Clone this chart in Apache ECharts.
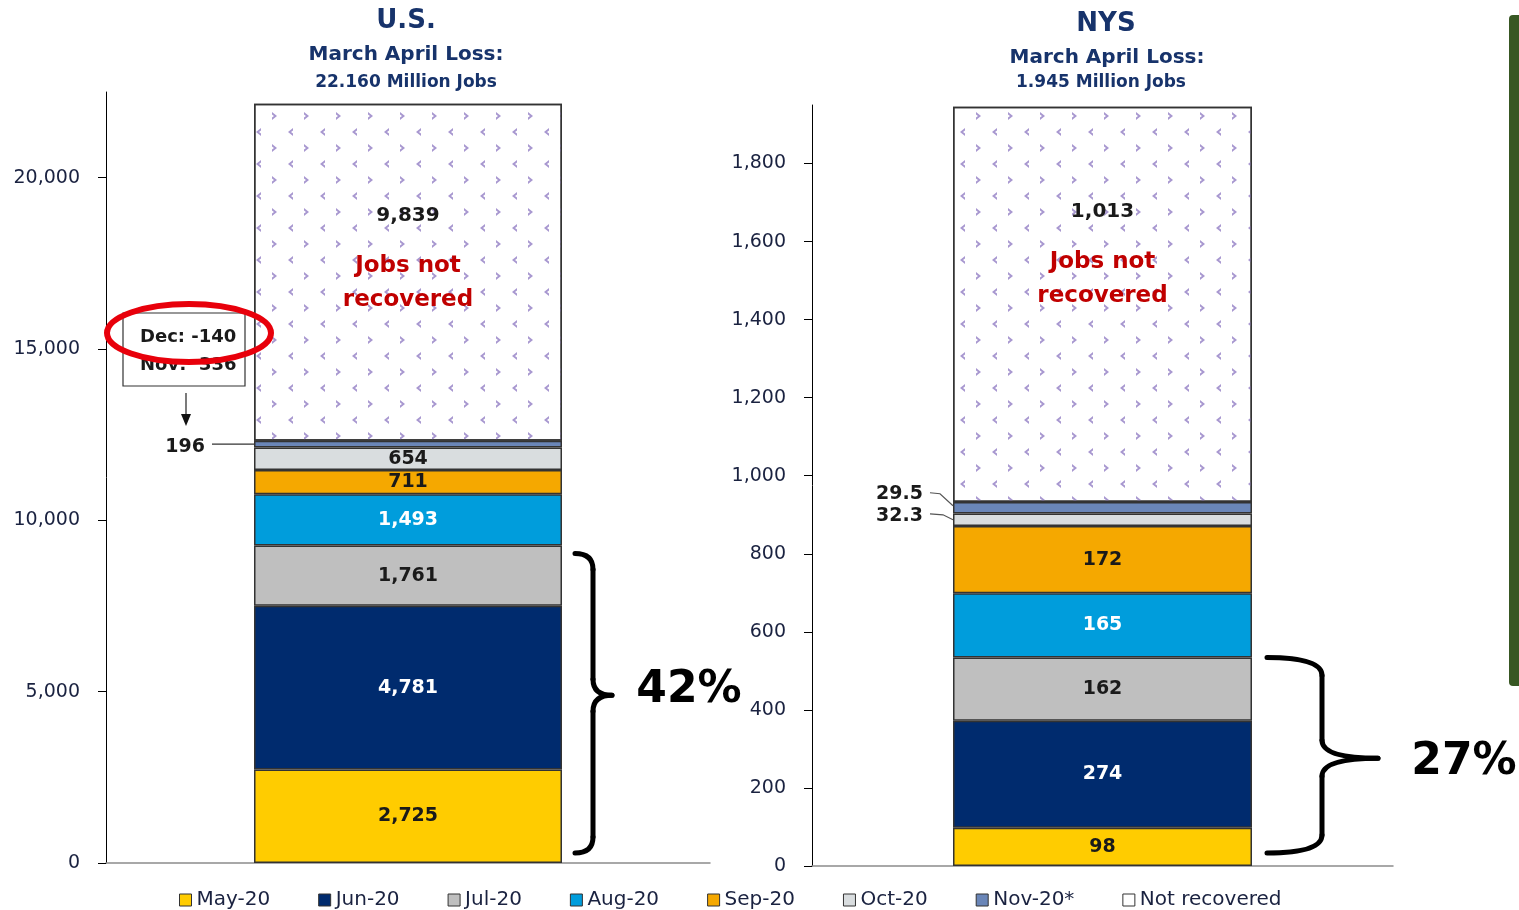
<!DOCTYPE html>
<html>
<head>
<meta charset="utf-8">
<title>Jobs recovered</title>
<script src="https://cdn.jsdelivr.net/npm/echarts@6/dist/echarts.min.js"></script>
<style>
  html, body { margin: 0; padding: 0; background: #fff; }
  #main { width: 1519px; height: 910px; }
</style>
</head>
<body>
<div id="main"></div>
<script>
// data (thousands of jobs)
const categories = ['May-20', 'Jun-20', 'Jul-20', 'Aug-20', 'Sep-20', 'Oct-20', 'Nov-20*', 'Not recovered'];
const usValues = [2725, 4781, 1761, 1493, 711, 654, 196, 9839];
const nysValues = [98, 274, 162, 165, 172, 32.3, 29.5, 1013];
const usTicks = [0, 5000, 10000, 15000, 20000];
const nysTicks = [0, 200, 400, 600, 800, 1000, 1200, 1400, 1600, 1800];
const usShare = '42%';
const nysShare = '27%';

const colors = ['#ffcc00', '#002b6e', '#bfbfbf', '#009ddc', '#f5a800', '#d9dddf', '#6a86b8', '#ffffff'];
const whiteLabel = [false, true, false, true, false, false, false, false];
const navy = '#17336b';
const font = 'DejaVu Sans';

const chart = echarts.init(document.getElementById('main'));

// pattern for "Not recovered"
const notRecDecal = {
  symbol: 'path://M5,0 L0,4 L5,8 L5,5.6 L3,4 L5,2.4 Z M16,16 L21,20 L16,24 L16,21.6 L18,20 L16,18.4 Z',
  symbolSize: 1,
  symbolKeepAspect: true,
  color: '#a898d0',
  dashArrayX: [21, 11],
  dashArrayY: [24, 8],
  rotation: 0
};

function fmt(v) {
  return v.toLocaleString('en-US');
}

function makeSeries(values, g, barWidth, topDist, sideLabels) {
  return categories.map((name, i) => {
    let label = {
      show: true,
      position: 'inside',
      fontFamily: font,
      fontWeight: 'bold',
      fontSize: 19,
      color: whiteLabel[i] ? '#ffffff' : '#1a1a1a',
      formatter: () => fmt(values[i])
    };
    if (i === 7) {
      label = {
        show: true,
        position: 'insideTop',
        distance: topDist,
        formatter: () => '{v|' + fmt(values[i]) + '}\n{r|Jobs not}\n{r|recovered}',
        rich: {
          v: { fontFamily: font, fontWeight: 'bold', fontSize: 20, color: '#1a1a1a', lineHeight: 66 },
          r: { fontFamily: font, fontWeight: 'bold', fontSize: 23, color: '#c00000', lineHeight: 34 }
        }
      };
    } else if (sideLabels[i]) {
      label = Object.assign(label, {
        position: 'left',
        distance: sideLabels[i].distance,
        offset: sideLabels[i].offset,
        color: '#1a1a1a'
      });
    }
    return {
      name: name,
      type: 'bar',
      stack: 'total' + g,
      xAxisIndex: g,
      yAxisIndex: g,
      barWidth: barWidth,
      data: [values[i]],
      itemStyle: {
        color: colors[i],
        borderColor: '#333',
        borderWidth: 1.5,
        decal: i === 7 ? notRecDecal : null
      },
      emphasis: { disabled: true },
      label: label
    };
  });
}

function valueAxis(g, max, ticks, interval) {
  return {
    type: 'value',
    gridIndex: g,
    min: 0,
    max: max,
    interval: interval,
    splitLine: { show: false },
    axisLine: { show: true, lineStyle: { color: '#000', width: 1 } },
    axisTick: { show: true, length: 8, customValues: ticks, lineStyle: { color: '#000' } },
    axisLabel: {
      customValues: ticks,
      margin: 26,
      fontFamily: font,
      fontSize: 19,
      color: '#1a2240',
      formatter: v => fmt(v)
    }
  };
}

function catAxis(g) {
  return {
    type: 'category',
    gridIndex: g,
    data: [''],
    axisLine: { show: true, lineStyle: { color: '#8c8c8c', width: 1.5 } },
    axisTick: { show: false },
    axisLabel: { show: false }
  };
}

const option = {
  animation: false,
  textStyle: { fontFamily: font },
  grid: [
    { left: 106, top: 92, width: 604, height: 771 },
    { left: 812, top: 105, width: 581, height: 761 }
  ],
  xAxis: [catAxis(0), catAxis(1)],
  yAxis: [valueAxis(0, 22500, usTicks, 5000), valueAxis(1, 1950, nysTicks, 200)],
  legend: {
    left: 174,
    top: 885,
    itemWidth: 12,
    itemHeight: 12,
    itemGap: 48,
    icon: 'rect',
    selectedMode: false,
    textStyle: { fontFamily: font, fontSize: 20, color: '#1a2240' },
    itemStyle: { borderColor: '#333', borderWidth: 1 },
    data: categories.map((c, i) => i === 7 ? { name: c, itemStyle: { decal: 'none' } } : c)
  },
  series: [].concat(
    makeSeries(usValues, 0, 308, 79, { 6: { distance: 49, offset: [0, 3] } }),
    makeSeries(nysValues, 1, 299, 72, {
      5: { distance: 30, offset: [0, -4] },
      6: { distance: 30, offset: [0, -14] }
    })
  )
};

chart.setOption(option);

// annotations placed from the axes' own scales
function px(g, v) {
  return chart.convertToPixel({ xAxisIndex: g, yAxisIndex: g }, [0, v]);
}
function cum(values, n) {
  let s = 0;
  for (let i = 0; i < n; i++) s += values[i];
  return s;
}

const usLeft = px(0, 0)[0] - 154;
const usRight = px(0, 0)[0] + 154;
const nysLeft = px(1, 0)[0] - 149.5;
const nysRight = px(1, 0)[0] + 149.5;

const yUsNov = px(0, cum(usValues, 6) + usValues[6] / 2)[1];
const yNysOct = px(1, cum(nysValues, 5) + nysValues[5] / 2)[1];
const yNysNov = px(1, cum(nysValues, 6) + nysValues[6] / 2)[1];

// curly brace built from line / quadratic curve pieces
function brace(xs, xv, xt, yt, yb, ym, r) {
  const st = { stroke: '#000', lineWidth: 5, fill: null, lineCap: 'round' };
  const q = (x1, y1, cx, cy, x2, y2) => ({
    type: 'bezierCurve',
    shape: { x1: x1, y1: y1, cpx1: cx, cpy1: cy, x2: x2, y2: y2 },
    style: st
  });
  const l = (x1, y1, x2, y2) => ({ type: 'line', shape: { x1: x1, y1: y1, x2: x2, y2: y2 }, style: st });
  return {
    type: 'group',
    children: [
      q(xs, yt, xv, yt, xv, yt + r),
      l(xv, yt + r, xv, ym - r),
      q(xv, ym - r, xv, ym, xt, ym),
      q(xt, ym, xv, ym, xv, ym + r),
      l(xv, ym + r, xv, yb - r),
      q(xv, yb - r, xv, yb, xs, yb)
    ]
  };
}

// brackets around May..Jul
const usBTop = px(0, cum(usValues, 3))[1] + 8;
const usBBot = px(0, 0)[1] - 10;
const nysBTop = px(1, cum(nysValues, 3))[1];
const nysBBot = px(1, 0)[1] - 13;

function title(x, y, text, size) {
  return {
    type: 'text', x: x, y: y,
    style: {
      text: text, fill: navy, font: 'bold ' + size + 'px "DejaVu Sans"',
      textAlign: 'center', textVerticalAlign: 'middle'
    }
  };
}

const graphics = [
  title(406, 21, 'U.S.', 26),
  title(406, 55, 'March April Loss:', 20),
  title(406, 83, '22.160 Million Jobs', 17),
  title(1106, 24, 'NYS', 26),
  title(1107, 58, 'March April Loss:', 20),
  title(1101, 83, '1.945 Million Jobs', 17),
  // leader lines
  {
    type: 'line',
    shape: { x1: usLeft - 42, y1: yUsNov, x2: usLeft, y2: yUsNov },
    style: { stroke: '#333', lineWidth: 1.2 }
  },
  {
    type: 'polyline',
    shape: { points: [[nysLeft - 23, yNysNov - 15], [nysLeft - 13, yNysNov - 14], [nysLeft, yNysNov - 2]] },
    style: { stroke: '#555', lineWidth: 1.2, fill: null }
  },
  {
    type: 'polyline',
    shape: { points: [[nysLeft - 23, yNysOct - 6], [nysLeft - 10, yNysOct - 5], [nysLeft, yNysOct]] },
    style: { stroke: '#555', lineWidth: 1.2, fill: null }
  },
  // Dec / Nov box
  {
    type: 'rect',
    shape: { x: 123, y: 313, width: 122, height: 73 },
    style: { fill: '#fff', stroke: '#333', lineWidth: 1.2 }
  },
  {
    type: 'text', x: 140, y: 337,
    style: { text: 'Dec: -140', font: 'bold 18px "DejaVu Sans"', fill: '#1a1a1a', textVerticalAlign: 'middle' }
  },
  {
    type: 'text', x: 140, y: 365,
    style: { text: 'Nov:  336', font: 'bold 18px "DejaVu Sans"', fill: '#1a1a1a', textVerticalAlign: 'middle' }
  },
  {
    type: 'ellipse',
    shape: { cx: 189, cy: 333, rx: 82, ry: 29 },
    style: { fill: null, stroke: '#e8000b', lineWidth: 6 }
  },
  // arrow
  {
    type: 'line',
    shape: { x1: 186, y1: 393, x2: 186, y2: 416 },
    style: { stroke: '#222', lineWidth: 1.2 }
  },
  {
    type: 'polygon',
    shape: { points: [[181, 414], [191, 414], [186, 426]] },
    style: { fill: '#111' }
  },
  // braces
  brace(usRight + 13, usRight + 31, usRight + 50, usBTop, usBBot, (usBTop + usBBot) / 2 - 8, 16),
  brace(nysRight + 15, nysRight + 70, nysRight + 126, nysBTop, nysBBot, (nysBTop + nysBBot) / 2 + 3, 18),
  {
    type: 'text', x: 689, y: 691,
    style: { text: usShare, font: 'bold 44px "DejaVu Sans"', fill: '#000', textAlign: 'center', textVerticalAlign: 'middle' }
  },
  {
    type: 'text', x: 1464, y: 763,
    style: { text: nysShare, font: 'bold 44px "DejaVu Sans"', fill: '#000', textAlign: 'center', textVerticalAlign: 'middle' }
  },
  // green side bar
  {
    type: 'rect',
    shape: { x: 1509, y: 15, width: 20, height: 671, r: 4 },
    style: { fill: '#385723' }
  }
];

// draw annotations above the bars
graphics.forEach(g => { g.z = 100; });

chart.setOption({ graphic: graphics });
</script>
</body>
</html>
